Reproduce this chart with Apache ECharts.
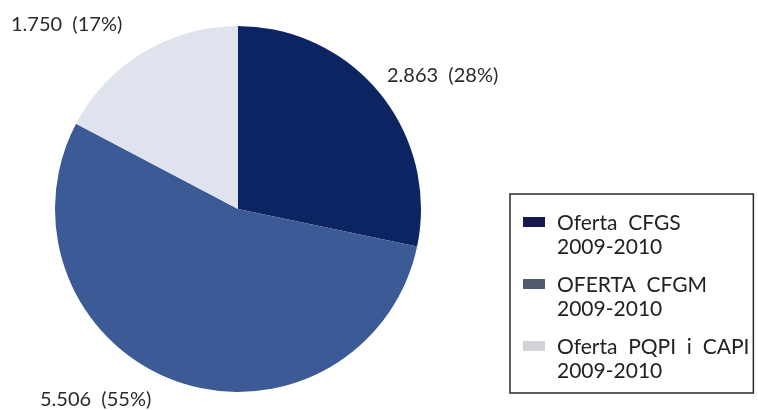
<!DOCTYPE html>
<html>
<head>
<meta charset="utf-8">
<script src="https://cdn.jsdelivr.net/npm/echarts@6/dist/echarts.min.js"></script>
<style>
  html, body { margin: 0; padding: 0; background: #ffffff; }
  #chart { width: 758px; height: 410px; }
</style>
</head>
<body>
<div id="chart"></div>
<script>
// Places offered per training level, 2009-2010
const categories = [
  'Oferta  CFGS\n2009-2010',
  'OFERTA  CFGM\n2009-2010',
  'Oferta  PQPI  i  CAPI\n2009-2010'
];
const places = [2863, 5506, 1750];

const sliceColors = ['#0c2461', '#3b5a96', '#dfe3ee'];
const legendColors = ['#15184d', '#515b70', '#d2d3d8'];

// Anchor (left, middle) of each value label
const labelAnchors = [
  { x: 387, y: 76 },
  { x: 40, y: 400 },
  { x: 11, y: 25 }
];

function thousands(v) {
  return String(v).replace(/\B(?=(\d{3})+(?!\d))/g, '.');
}

// Legend marker: a bar aligned with the first text line
const legendIcon = 'path://M0,0h0.01v0.01h-0.01z M0,6h22v10h-22z M0,47.99h0.01v0.01h-0.01z';

const font = 'Lato, "Open Sans", sans-serif';

const chart = echarts.init(document.getElementById('chart'), null, { renderer: 'canvas' });

chart.setOption({
  backgroundColor: '#ffffff',
  animation: false,
  legend: {
    orient: 'vertical',
    left: 510,
    top: 194,
    padding: [17, 4, 10, 13],
    itemGap: 14,
    itemWidth: 22,
    itemHeight: 48,
    icon: legendIcon,
    borderColor: '#2a2a2a',
    borderWidth: 1.5,
    selectedMode: false,
    data: categories.map((name, i) => ({
      name: name,
      itemStyle: { color: legendColors[i] }
    })),
    textStyle: {
      fontFamily: font,
      fontSize: 21,
      lineHeight: 24,
      color: '#222222',
      padding: [0, 0, 0, 7]
    }
  },
  series: [{
    type: 'pie',
    center: [238, 209],
    radius: 183,
    startAngle: 90,
    clockwise: true,
    percentPrecision: 0,
    avoidLabelOverlap: false,
    data: categories.map((name, i) => ({
      name: name,
      value: places[i],
      itemStyle: { color: sliceColors[i] }
    })),
    label: {
      show: true,
      position: 'outside',
      fontFamily: font,
      fontSize: 20,
      color: '#2a2a2a',
      formatter: p => thousands(p.value) + '  (' + p.percent + '%)'
    },
    labelLine: { show: false },
    labelLayout: p => ({
      x: labelAnchors[p.dataIndex].x,
      y: labelAnchors[p.dataIndex].y,
      align: 'left',
      verticalAlign: 'middle'
    }),
    emphasis: { disabled: true }
  }]
});
</script>
</body>
</html>
